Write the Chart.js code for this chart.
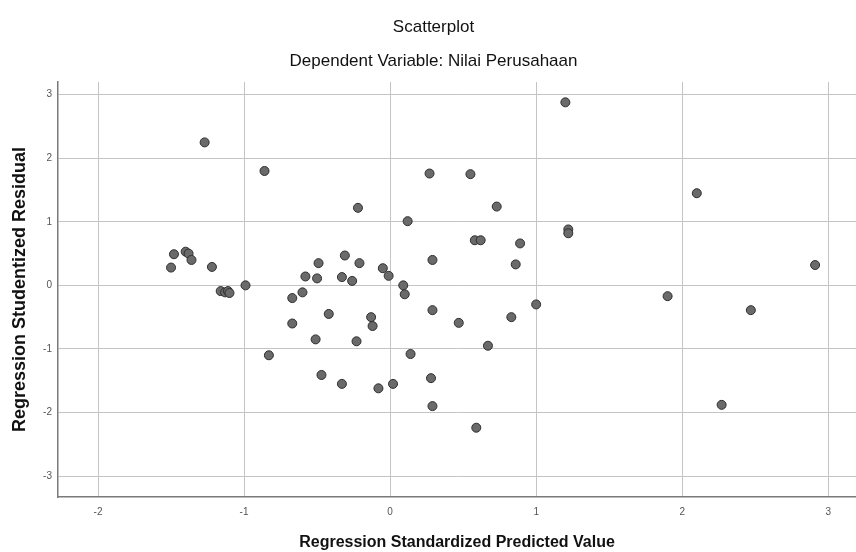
<!DOCTYPE html>
<html>
<head>
<meta charset="utf-8">
<script src="https://cdn.jsdelivr.net/npm/chart.js@4/dist/chart.umd.min.js"></script>
<style>
html,body{margin:0;padding:0;background:#fff;}
#wrap{width:856px;height:552px;}
</style>
</head>
<body>
<div id="wrap"><canvas id="c" width="856" height="552"></canvas></div>
<script>
// Regression Standardized Predicted Value (x)
const predicted = [
  1.20, -1.27, -0.86, 0.27, 0.55, 2.10, -0.22, 0.73, 0.12, 1.22,
  1.22, 0.58, 0.62, 0.89, -1.48, -1.40, -1.38, -1.36, -1.50, -1.22,
  -1.16, -1.13, -1.11, -1.10, -0.99, -0.67, -0.60, 0.86, 0.29, -0.31,
  -0.49, -0.21, -0.58, -0.50, -0.33, -0.26, -0.05, -0.01, 0.09, 0.10,
  0.29, 1.00, 2.91, 1.90, 2.47, -0.67, -0.83, -0.42, -0.13, -0.12,
  -0.51, -0.23, 0.47, 0.83, 0.14, 0.67, -0.47, -0.33, -0.08, 0.02,
  0.28, 0.29, 0.59, 2.27
];
// Regression Studentized Residual (y)
const residual = [
  2.88, 2.25, 1.80, 1.76, 1.75, 1.45, 1.22, 1.24, 1.01, 0.88,
  0.82, 0.71, 0.71, 0.66, 0.49, 0.53, 0.50, 0.40, 0.28, 0.29,
  -0.09, -0.11, -0.09, -0.12, 0.00, -0.20, -0.11, 0.33, 0.40, 0.47,
  0.35, 0.35, 0.14, 0.11, 0.13, 0.07, 0.27, 0.15, 0.00, -0.14,
  -0.39, -0.30, 0.32, -0.17, -0.39, -0.60, -1.10, -0.45, -0.50, -0.64,
  -0.85, -0.88, -0.59, -0.50, -1.08, -0.95, -1.41, -1.55, -1.62, -1.55,
  -1.46, -1.90, -2.24, -1.88
];
const xTicks = [-2, -1, 0, 1, 2, 3];
const yTicks = [-3, -2, -1, 0, 1, 2, 3];

const chartTitle = 'Scatterplot';
const chartSubtitle = 'Dependent Variable: Nilai Perusahaan';
const xTitle = 'Regression Standardized Predicted Value';
const yTitle = 'Regression Studentized Residual';

const points = predicted.map((x, i) => ({x: x, y: residual[i]}));
const FONT = "'Liberation Sans', Arial, sans-serif";

new Chart(document.getElementById('c'), {
  type: 'scatter',
  data: {
    datasets: [{
      data: points,
      pointRadius: 4.5,
      pointHoverRadius: 4.5,
      backgroundColor: '#6a6a6a',
      borderColor: '#2e2e2e',
      borderWidth: 1
    }]
  },
  options: {
    responsive: false,
    animation: false,
    devicePixelRatio: 1,
    layout: {autoPadding: false, padding: {left: 11, right: 0, top: 0, bottom: 0}},
    plugins: {
      legend: {display: false},
      tooltip: {enabled: false},
      title: {
        display: true, text: chartTitle, color: '#111',
        font: {family: FONT, size: 17, weight: 'normal'},
        padding: {top: 16.8, bottom: 13.6}
      },
      subtitle: {
        display: true, text: chartSubtitle, color: '#111',
        font: {family: FONT, size: 17, weight: 'normal'},
        padding: {top: 0, bottom: 10.8}
      }
    },
    scales: {
      x: {
        type: 'linear',
        min: -2.274, max: 3.19,
        afterBuildTicks: s => { s.ticks = xTicks.map(v => ({value: v})); },
        afterFit: s => { s.height = 55; s.paddingLeft = 0; s.paddingRight = 0; },
        grid: {color: '#c4c4c4', lineWidth: 1, drawTicks: false},
        border: {display: true, color: '#7a7a7a', width: 1.5},
        ticks: {color: '#555', font: {family: FONT, size: 10}, padding: 9, maxRotation: 0},
        title: {display: true, text: xTitle, color: '#111',
                font: {family: FONT, size: 16, weight: 'bold'}, padding: 0}
      },
      y: {
        type: 'linear',
        min: -3.33, max: 3.2,
        afterBuildTicks: s => { s.ticks = yTicks.map(v => ({value: v})); },
        afterFit: s => { s.width = 47; s.paddingTop = 0; s.paddingBottom = 0; },
        grid: {color: '#c4c4c4', lineWidth: 1, drawTicks: false},
        border: {display: true, color: '#7a7a7a', width: 1.5},
        ticks: {color: '#555', font: {family: FONT, size: 10}, padding: 6},
        title: {display: true, text: yTitle, color: '#111',
                font: {family: FONT, size: 18, weight: 'bold', lineHeight: 1}, padding: 0}
      }
    }
  }
});
</script>
</body>
</html>
